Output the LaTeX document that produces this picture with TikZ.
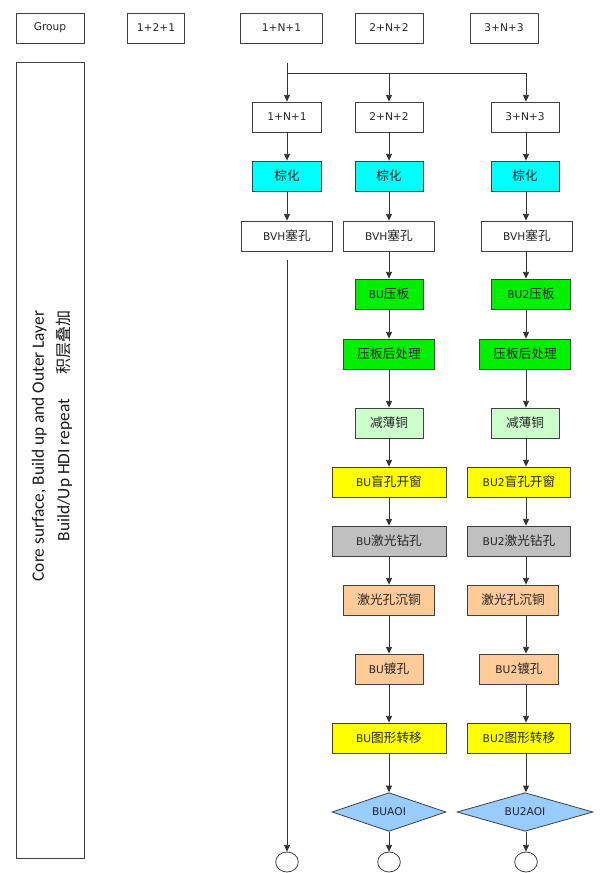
\documentclass[tikz,border=0pt]{standalone}
\usepackage{fontspec}
\setmainfont{DejaVu Sans}
\newfontfamily\zhfont{Noto Sans CJK SC}
\newfontfamily\sidefont{Carlito}
\usepackage{tikz}
\usetikzlibrary{arrows.meta, shapes.geometric}
\usepackage{xcolor}
\definecolor{cyanfill}{RGB}{0,255,255}
\definecolor{greenfill}{RGB}{0,240,0}
\definecolor{palegreen}{RGB}{204,255,204}
\definecolor{yellowfill}{RGB}{255,255,0}
\definecolor{greyfill}{RGB}{192,192,192}
\definecolor{peachfill}{RGB}{255,204,153}
\definecolor{bluefill}{RGB}{153,204,255}
\newcommand{\zh}[1]{{\zhfont\fontsize{9.5}{11}\selectfont #1}}

\begin{document}
\begin{tikzpicture}[x=0.75pt, y=-0.75pt, font=\fontsize{8}{10}\selectfont,
    proc/.style={draw=black!75, line width=0.6pt, minimum height=22.5pt, inner sep=0pt, text=black!85},
    check/.style={diamond, draw=black!75, line width=0.6pt, fill=bluefill, aspect=3, inner sep=0pt, minimum height=29pt, text=black!85},
    term/.style={ellipse, draw=black!75, line width=0.6pt, minimum width=17pt, minimum height=15pt, inner sep=0pt},
    line/.style={draw=black!80, line width=0.6pt},
    arr/.style={line, -{Triangle[length=5pt, width=4.5pt]}}]
        \useasboundingbox (0,0) rectangle (599,873);
        % top row
        \node[proc, minimum width=51pt] (grp) at (50,28) {Group};
        \node[proc, minimum width=43pt] (h121) at (156,28) {1+2+1};
        \node[proc, minimum width=61pt] (h1n1) at (281.5,28) {1+N+1};
        \node[proc, minimum width=51pt] (h2n2) at (389,28) {2+N+2};
        \node[proc, minimum width=51pt] (h3n3) at (504,28) {3+N+3};
        % side box
        \node[proc, minimum width=51pt, minimum height=597pt] (side) at (50,460) {};
        \node[rotate=90, align=right, font=\sidefont\fontsize{13}{19}\selectfont, text=black!90] (sidetxt) at (52,446)
            {Core surface, Build up and Outer Layer\\Build/Up HDI repeat\hspace{1.4em}{\zhfont\fontsize{12}{19}\selectfont 积层叠加}};
        % 1+N+1
        \node[proc, minimum width=52pt] (a1) at (287,117) {1+N+1};
        \node[proc, minimum width=52pt, fill=cyanfill] (a2) at (287,176) {\zh{棕化}};
        \node[proc, minimum width=68pt] (a3) at (287,236) {BVH\zh{塞孔}};
        \node[term] (a4) at (287,862) {};
        % 2+N+2
        \node[proc, minimum width=51pt] (b1) at (389,117) {2+N+2};
        \node[proc, minimum width=51pt, fill=cyanfill] (b2) at (389,176) {\zh{棕化}};
        \node[proc, minimum width=68pt] (b3) at (389,236) {BVH\zh{塞孔}};
        \node[proc, minimum width=51pt, fill=greenfill] (b4) at (389,294) {BU\zh{压板}};
        \node[proc, minimum width=68pt, fill=greenfill] (b5) at (389,354) {\zh{压板后处理}};
        \node[proc, minimum width=51pt, fill=palegreen] (b6) at (389,423) {\zh{减薄铜}};
        \node[proc, minimum width=85.5pt, fill=yellowfill] (b7) at (389,482) {BU\zh{盲孔开窗}};
        \node[proc, minimum width=85.5pt, fill=greyfill] (b8) at (389,541) {BU\zh{激光钻孔}};
        \node[proc, minimum width=68pt, fill=peachfill] (b9) at (389,600) {\zh{激光孔沉铜}};
        \node[proc, minimum width=51pt, fill=peachfill] (b10) at (389,669) {BU\zh{镀孔}};
        \node[proc, minimum width=85.5pt, fill=yellowfill] (b11) at (389,738) {BU\zh{图形转移}};
        \node[check, minimum width=85.5pt] (b12) at (389,812) {BUAOI};
        \node[term] (b13) at (389,862) {};
        % 3+N+3
        \node[proc, minimum width=51pt] (c1) at (525,117) {3+N+3};
        \node[proc, minimum width=51pt, fill=cyanfill] (c2) at (525,176) {\zh{棕化}};
        \node[proc, minimum width=68pt] (c3) at (527,236) {BVH\zh{塞孔}};
        \node[proc, minimum width=59pt, fill=greenfill] (c4) at (531,294) {BU2\zh{压板}};
        \node[proc, minimum width=68pt, fill=greenfill] (c5) at (525,354) {\zh{压板后处理}};
        \node[proc, minimum width=51pt, fill=palegreen] (c6) at (525,423) {\zh{减薄铜}};
        \node[proc, minimum width=77pt, fill=yellowfill] (c7) at (519,482) {BU2\zh{盲孔开窗}};
        \node[proc, minimum width=77pt, fill=greyfill] (c8) at (519,541) {BU2\zh{激光钻孔}};
        \node[proc, minimum width=68pt, fill=peachfill] (c9) at (513,600) {\zh{激光孔沉铜}};
        \node[proc, minimum width=59pt, fill=peachfill] (c10) at (519,669) {BU2\zh{镀孔}};
        \node[proc, minimum width=77pt, fill=yellowfill] (c11) at (519,738) {BU2\zh{图形转移}};
        \node[check, minimum width=102pt] (c12) at (525,812) {BU2AOI};
        \node[term] (c13) at (526,862) {};
        % fork
        \coordinate (src) at (287,63);
        \coordinate (fork) at (287,73);
        \coordinate (x3) at (526,73);
        \draw[line] (src) -- (fork) -- (x3);
        \draw[arr] (fork) -- (a1); \draw[arr] (fork -| b1) -- (b1); \draw[arr] (x3) -- (c1.north -| x3);
        % column 1
        \draw[arr] (a1) -- (a2); \draw[arr] (a2) -- (a3);
        \coordinate (resume) at (287,260);
        \draw[arr] (resume) -- (a4);
        % column 2
        \draw[arr] (b1) -- (b2); \draw[arr] (b2) -- (b3); \draw[arr] (b3) -- (b4);
        \draw[arr] (b4) -- (b5); \draw[arr] (b5) -- (b6); \draw[arr] (b6) -- (b7);
        \draw[arr] (b7) -- (b8); \draw[arr] (b8) -- (b9); \draw[arr] (b9) -- (b10);
        \draw[arr] (b10) -- (b11); \draw[arr] (b11) -- (b12); \draw[arr] (b12) -- (b13);
        % column 3
        \draw[arr] (c1.south -| x3) -- (c2.north -| x3); \draw[arr] (c2.south -| x3) -- (c3.north -| x3);
        \draw[arr] (c3.south -| x3) -- (c4.north -| x3); \draw[arr] (c4.south -| x3) -- (c5.north -| x3);
        \draw[arr] (c5.south -| x3) -- (c6.north -| x3); \draw[arr] (c6.south -| x3) -- (c7.north -| x3);
        \draw[arr] (c7.south -| x3) -- (c8.north -| x3); \draw[arr] (c8.south -| x3) -- (c9.north -| x3);
        \draw[arr] (c9.south -| x3) -- (c10.north -| x3); \draw[arr] (c10.south -| x3) -- (c11.north -| x3);
        \draw[arr] (c11.south -| x3) -- (c12.north -| x3); \draw[arr] (c12.south -| x3) -- (c13.north -| x3);
\end{tikzpicture}
\end{document}
